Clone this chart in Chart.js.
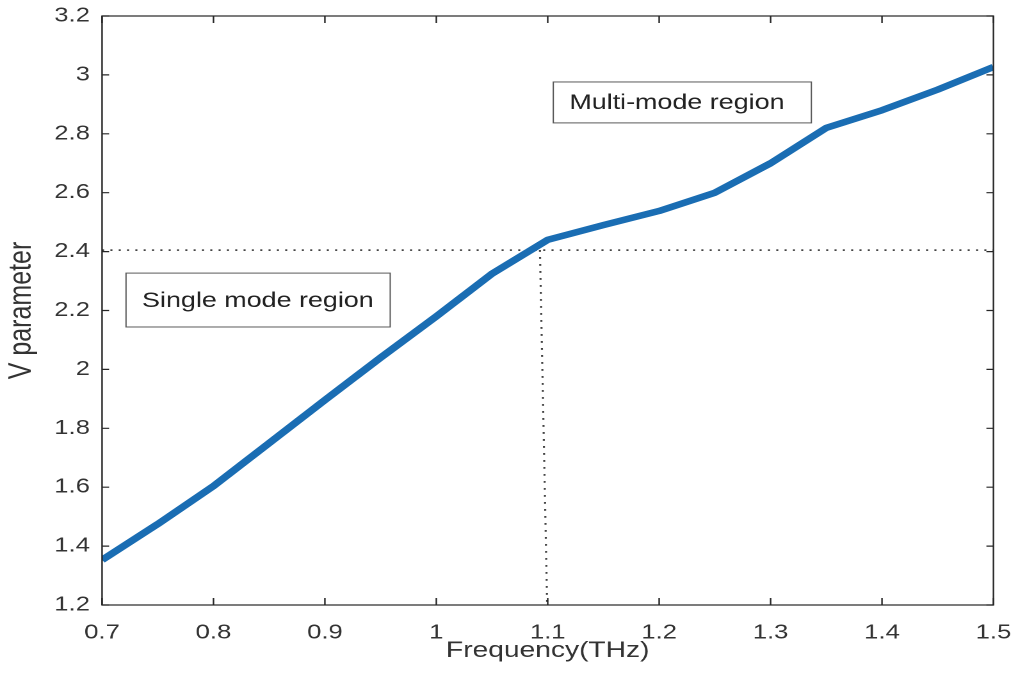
<!DOCTYPE html>
<html>
<head>
<meta charset="utf-8">
<script src="https://cdn.jsdelivr.net/npm/chart.js@4/dist/chart.umd.min.js"></script>
<style>
html,body{margin:0;padding:0;background:#fff;overflow:hidden;}
#wrap{width:795px;height:685px;transform:scaleX(1.2805);transform-origin:0 0;}
</style>
</head>
<body>
<div id="wrap"><canvas id="c" width="795" height="685"></canvas></div>
<script>
// ---- data ----
const freq = [0.7,0.75,0.8,0.85,0.9,0.95,1.0,1.05,1.1,1.15,1.2,1.25,1.3,1.35,1.4,1.45,1.5];
const vParam = [1.353,1.475,1.604,1.75,1.896,2.04,2.18,2.325,2.44,2.49,2.538,2.60,2.70,2.82,2.88,2.95,3.027];
const cutoffHX = [0.7,1.5];
const cutoffHY = [2.405,2.405];
const cutoffVX = [1.093,1.0995];
const cutoffVY = [2.405,1.2];
const xTicks = [0.7,0.8,0.9,1.0,1.1,1.2,1.3,1.4,1.5];
const xTickLabels = ['0.7','0.8','0.9','1','1.1','1.2','1.3','1.4','1.5'];
const yTicks = [1.2,1.4,1.6,1.8,2.0,2.2,2.4,2.6,2.8,3.0,3.2];
const yTickLabels = ['1.2','1.4','1.6','1.8','2','2.2','2.4','2.6','2.8','3','3.2'];
const xTitle = 'Frequency(THz)';
const yTitle = 'V parameter';
const boxTexts = ['Single mode region','Multi-mode region'];

const pts = (xs, ys) => xs.map((x,i)=>({x:x,y:ys[i]}));
const FONT = '"Liberation Sans", Arial, Helvetica, sans-serif';
const AX = '#262626';

const framePlugin = {
  id:'frame',
  afterDatasetsDraw(chart){
    const {ctx, chartArea:a, scales:{x,y}} = chart;
    ctx.save();
    ctx.strokeStyle = AX;
    ctx.lineWidth = 1.2;
    ctx.strokeRect(a.left, a.top, a.right-a.left, a.bottom-a.top);
    ctx.beginPath();
    xTicks.forEach(v=>{
      const px = x.getPixelForValue(v);
      ctx.moveTo(px, a.bottom); ctx.lineTo(px, a.bottom-7);
      ctx.moveTo(px, a.top); ctx.lineTo(px, a.top+7);
    });
    yTicks.forEach(v=>{
      const py = y.getPixelForValue(v);
      ctx.moveTo(a.left, py); ctx.lineTo(a.left+5.5, py);
      ctx.moveTo(a.right, py); ctx.lineTo(a.right-5.5, py);
    });
    ctx.stroke();
    // annotation boxes
    const boxes = [
      {x0:0.7215, x1:0.9586, y0:2.327, y1:2.144, text:boxTexts[0]},
      {x0:1.105, x1:1.3366, y0:2.976, y1:2.837, text:boxTexts[1]}
    ];
    boxes.forEach(b=>{
      const l = x.getPixelForValue(b.x0), r = x.getPixelForValue(b.x1);
      const t = y.getPixelForValue(b.y0), bt = y.getPixelForValue(b.y1);
      ctx.fillStyle = '#fff';
      ctx.fillRect(l, t, r-l, bt-t);
      ctx.strokeStyle = '#5a5a5a';
      ctx.lineWidth = 1;
      ctx.strokeRect(l, t, r-l, bt-t);
      ctx.fillStyle = '#222';
      ctx.font = '21px ' + FONT;
      ctx.textBaseline = 'middle';
      ctx.textAlign = 'left';
      ctx.fillText(b.text, l+12.5, (t+bt)/2+1);
    });
    ctx.restore();
  }
};

function noPad(s){ s.paddingTop = 0; s.paddingBottom = 0; s.paddingLeft = 0; s.paddingRight = 0; }

new Chart(document.getElementById('c'), {
  type:'scatter',
  data:{
    datasets:[
      {data:pts(freq,vParam), showLine:true, borderColor:'#1a6db3', borderWidth:6.5, pointRadius:0, tension:0, borderCapStyle:'butt', borderJoinStyle:'round'},
      {data:pts(cutoffHX,cutoffHY), showLine:true, borderColor:'#2a2a2a', borderWidth:1.6, borderDash:[1.6,4.9], pointRadius:0},
      {data:pts(cutoffVX,cutoffVY), showLine:true, borderColor:'#2a2a2a', borderWidth:1.6, borderDash:[1.6,5.4], pointRadius:0}
    ]
  },
  options:{
    responsive:false,
    maintainAspectRatio:false,
    devicePixelRatio:2,
    animation:false,
    events:[],
    layout:{padding:{top:16,right:19.2,left:0,bottom:0}},
    plugins:{legend:{display:false}, tooltip:{enabled:false}},
    scales:{
      x:{
        type:'linear', min:0.7, max:1.5,
        afterBuildTicks:(s)=>{ s.ticks = xTicks.map(v=>({value:v})); },
        afterFit:(s)=>{ s.height = 80; noPad(s); },
        grid:{display:false, drawTicks:false},
        border:{display:false},
        ticks:{padding:16, color:'#333', font:{family:FONT, size:20}, callback:(v,i)=>xTickLabels[i], maxRotation:0, autoSkip:false},
        title:{display:true, text:xTitle, color:'#333', font:{family:FONT, size:22}, padding:{top:0,bottom:21}}
      },
      y:{
        type:'linear', min:1.2, max:3.2,
        afterBuildTicks:(s)=>{ s.ticks = yTicks.map(v=>({value:v})); },
        afterFit:(s)=>{ s.width = 79.7; noPad(s); },
        grid:{display:false, drawTicks:false},
        border:{display:false},
        ticks:{padding:9.5, color:'#333', font:{family:FONT, size:20}, callback:(v,i)=>yTickLabels[i], autoSkip:false},
        title:{display:true, text:yTitle, color:'#333', font:{family:FONT, size:25}, padding:{top:2,bottom:0}}
      }
    }
  },
  plugins:[framePlugin]
});
</script>
</body>
</html>
